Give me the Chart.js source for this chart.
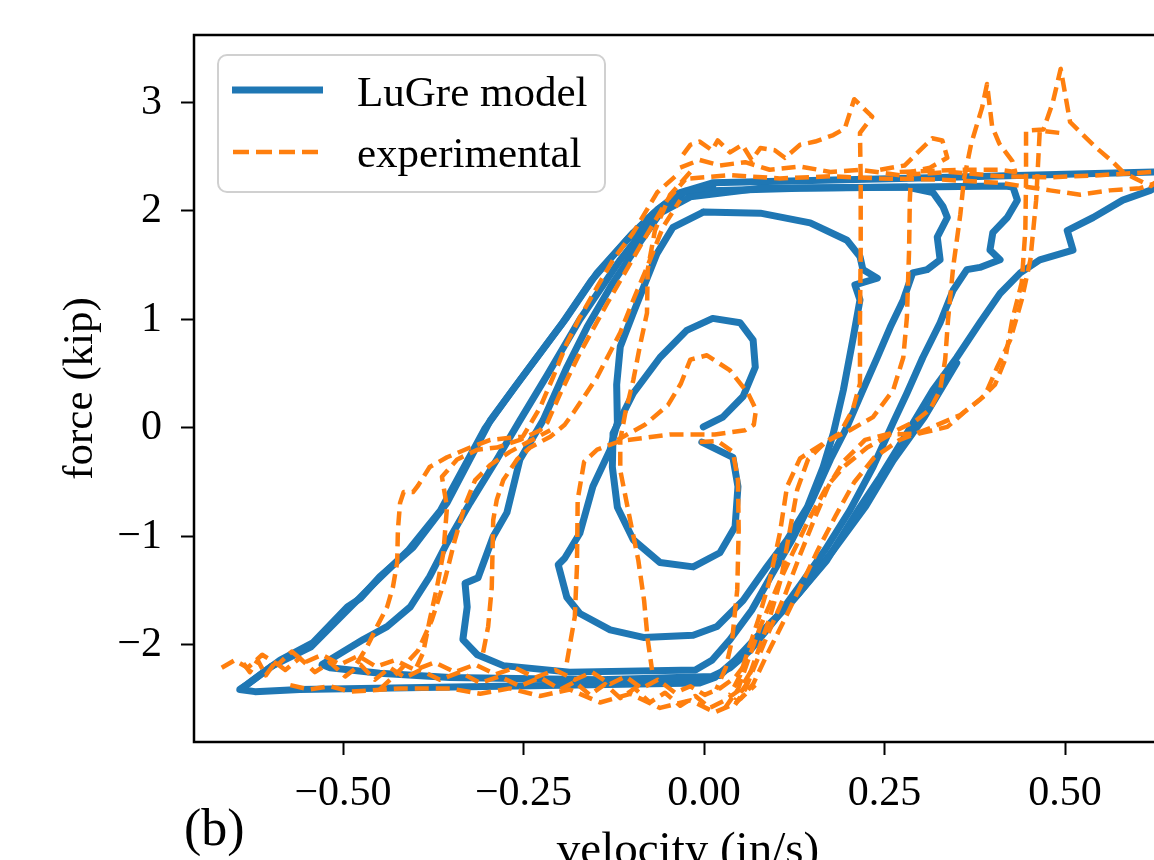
<!DOCTYPE html>
<html>
<head>
<meta charset="utf-8">
<script src="https://cdn.jsdelivr.net/npm/chart.js@4.4.1/dist/chart.umd.min.js"></script>
<style>
  html, body { margin: 0; padding: 0; overflow: hidden; background: #fff; }
  canvas { display: block; }
</style>
</head>
<body>
<canvas id="hysteresis" width="1230" height="900"></canvas>
<script>
// axis ranges and ticks
const xMin = -0.7064, xMax = 0.662;
const yMin = -2.894, yMax = 3.622;
const xTickValues = [-0.5, -0.25, 0, 0.25, 0.5];
const yTickValues = [-2, -1, 0, 1, 2, 3];

// LuGre model loops: [velocity, force]
const lugreLoop1 = [[-0.003,-0.13],[0.040,-0.27],[0.047,-0.54],[0.043,-0.91],[0.022,-1.15],[-0.015,-1.28],[-0.061,-1.24],[-0.098,-1.03],[-0.120,-0.73],[-0.127,-0.36],[-0.126,-0.05],[-0.098,0.32],[-0.061,0.65],[-0.024,0.90],[0.012,1.01],[0.050,0.97],[0.068,0.81],[0.071,0.56],[0.054,0.29],[0.026,0.10],[-0.001,0.01]];
const lugreLoop2 = [[-0.001,1.99],[0.078,1.98],[0.147,1.89],[0.198,1.73],[0.216,1.58],[0.220,1.46],[0.240,1.38],[0.209,1.32],[0.216,1.18],[0.206,0.81],[0.193,0.35],[0.179,-0.05],[0.165,-0.36],[0.143,-0.73],[0.115,-1.03],[0.087,-1.28],[0.054,-1.59],[0.018,-1.83],[-0.015,-1.91],[-0.084,-1.93],[-0.130,-1.86],[-0.172,-1.71],[-0.190,-1.56],[-0.202,-1.26],[-0.193,-1.20],[-0.172,-0.97],[-0.154,-0.54],[-0.130,-0.20],[-0.120,0.05],[-0.121,0.40],[-0.116,0.75],[-0.098,1.06],[-0.065,1.61],[-0.043,1.85],[-0.001,1.99]];
const lugreLoop3 = [[-0.019,2.13],[0.078,2.21],[0.281,2.22],[0.317,2.17],[0.331,2.04],[0.337,1.94],[0.323,1.76],[0.327,1.55],[0.309,1.46],[0.289,1.43],[0.276,1.18],[0.258,0.93],[0.240,0.65],[0.220,0.35],[0.198,0.01],[0.175,-0.29],[0.150,-0.66],[0.122,-1.03],[0.094,-1.35],[0.066,-1.68],[0.036,-1.95],[0.011,-2.14],[-0.012,-2.23],[-0.186,-2.25],[-0.278,-2.19],[-0.314,-2.09],[-0.334,-1.95],[-0.328,-1.65],[-0.331,-1.43],[-0.313,-1.38],[-0.292,-1.00],[-0.273,-0.78],[-0.255,-0.29],[-0.223,0.07],[-0.190,0.56],[-0.162,0.93],[-0.126,1.34],[-0.089,1.71],[-0.061,1.98],[-0.019,2.13]];
const lugreLoop4 = [[-0.026,2.18],[0.133,2.21],[0.417,2.23],[0.428,2.22],[0.434,2.10],[0.420,1.94],[0.400,1.80],[0.396,1.64],[0.410,1.55],[0.382,1.48],[0.364,1.46],[0.345,1.27],[0.327,0.97],[0.303,0.65],[0.281,0.32],[0.262,0.05],[0.234,-0.36],[0.202,-0.76],[0.168,-1.12],[0.133,-1.45],[0.098,-1.77],[0.064,-2.05],[0.036,-2.21],[0.011,-2.29],[-0.144,-2.32],[-0.352,-2.30],[-0.449,-2.26],[-0.518,-2.21],[-0.529,-2.18],[-0.472,-1.95],[-0.439,-1.83],[-0.407,-1.65],[-0.380,-1.37],[-0.356,-1.06],[-0.324,-0.69],[-0.287,-0.29],[-0.255,0.07],[-0.217,0.49],[-0.172,1.00],[-0.116,1.55],[-0.068,1.96],[-0.026,2.18]];
const lugreLoop5 = [[0.012,2.26],[0.271,2.30],[0.623,2.36],[0.650,2.36],[0.639,2.27],[0.618,2.19],[0.580,2.10],[0.539,1.94],[0.503,1.82],[0.511,1.64],[0.465,1.55],[0.438,1.43],[0.410,1.24],[0.382,0.97],[0.350,0.65],[0.317,0.35],[0.281,-0.05],[0.244,-0.45],[0.216,-0.73],[0.170,-1.22],[0.123,-1.59],[0.078,-1.89],[0.043,-2.14],[0.015,-2.30],[-0.006,-2.35],[-0.283,-2.38],[-0.560,-2.41],[-0.622,-2.43],[-0.643,-2.41],[-0.632,-2.36],[-0.587,-2.14],[-0.542,-1.98],[-0.494,-1.65],[-0.476,-1.57],[-0.449,-1.37],[-0.403,-1.10],[-0.356,-0.69],[-0.296,0.07],[-0.255,0.44],[-0.217,0.78],[-0.190,1.02],[-0.148,1.43],[-0.098,1.80],[-0.065,2.01],[-0.033,2.17],[0.012,2.26]];
// repeated cycles of the largest loop (the thick parts of the diagonals)
const lugreRepeatLeft = [[-0.640,-2.40],[-0.600,-2.20],[-0.545,-2.02],[-0.500,-1.72],[-0.455,-1.42],[-0.410,-1.13],[-0.365,-0.76],[-0.303,0.00],[-0.264,0.36],[-0.226,0.70],[-0.198,0.95],[-0.156,1.36],[-0.106,1.74],[-0.070,1.98],[-0.036,2.16],[0.012,2.23]];
const lugreRepeatRight = [[0.350,0.60],[0.305,0.10],[0.262,-0.30],[0.224,-0.72],[0.180,-1.12],[0.132,-1.52],[0.088,-1.84],[0.052,-2.10],[0.022,-2.28]];

// experimental traces: [velocity, force]
const expInnerRight = [[-0.006,-0.13],[0.019,-0.12],[0.040,-0.22],[0.047,-0.48],[0.048,-0.94],[0.046,-1.49],[0.039,-1.95],[0.030,-2.21],[0.017,-2.41]];
const expInnerLeft = [[-0.190,-2.16],[-0.179,-1.74],[-0.176,-1.28],[-0.175,-0.66],[-0.166,-0.31],[-0.148,-0.20],[-0.116,-0.12],[-0.047,-0.06],[0.015,-0.06],[0.057,-0.02],[0.069,0.03],[0.072,0.17],[0.061,0.32],[0.036,0.53],[0.004,0.67],[-0.019,0.63],[-0.032,0.41],[-0.050,0.21],[-0.082,0.03],[-0.120,-0.11]];
const expInnerDrop = [[-0.019,2.36],[-0.047,2.15],[-0.068,1.82],[-0.078,1.46],[-0.079,1.06],[-0.089,0.75],[-0.098,0.44],[-0.109,0.14],[-0.116,-0.11],[-0.116,-0.39],[-0.105,-0.76],[-0.091,-1.22],[-0.083,-1.59],[-0.078,-1.95],[-0.072,-2.23]];
const expRight1 = [[-0.029,2.52],[-0.019,2.61],[-0.006,2.64],[0.011,2.56],[0.019,2.65],[0.036,2.54],[0.053,2.61],[0.066,2.47],[0.078,2.58],[0.098,2.56],[0.112,2.49],[0.133,2.61],[0.154,2.64],[0.179,2.70],[0.195,2.76],[0.208,3.03],[0.233,2.87],[0.216,2.72],[0.217,2.29],[0.217,1.64],[0.216,1.00],[0.216,0.41],[0.206,0.17],[0.188,-0.05],[0.161,-0.16],[0.133,-0.28],[0.115,-0.54],[0.105,-0.97],[0.091,-1.40],[0.075,-1.77],[0.061,-2.05],[0.050,-2.28],[0.036,-2.46]];
const expRight2 = [[0.244,2.38],[0.278,2.42],[0.296,2.54],[0.316,2.67],[0.330,2.65],[0.337,2.49],[0.313,2.40],[0.287,2.36],[0.285,2.10],[0.284,1.64],[0.281,1.02],[0.276,0.65],[0.262,0.35],[0.234,0.10],[0.202,-0.02],[0.168,-0.13],[0.144,-0.29],[0.129,-0.57],[0.119,-0.94],[0.107,-1.38],[0.090,-1.77],[0.073,-2.09],[0.058,-2.37],[0.043,-2.51]];
const expRight3 = [[0.271,2.36],[0.355,2.38],[0.410,2.38],[0.431,2.36],[0.427,2.46],[0.409,2.62],[0.399,2.78],[0.392,3.17],[0.385,2.95],[0.370,2.62],[0.360,2.29],[0.355,1.97],[0.345,1.48],[0.338,1.00],[0.334,0.63],[0.327,0.35],[0.313,0.17],[0.292,0.06],[0.258,-0.05],[0.223,-0.11],[0.193,-0.31],[0.172,-0.54],[0.154,-0.82],[0.133,-1.17],[0.112,-1.54],[0.091,-1.86],[0.071,-2.18],[0.057,-2.41],[0.043,-2.55]];
const expRight4 = [[0.632,2.30],[0.619,2.23],[0.600,2.29],[0.580,2.36],[0.565,2.46],[0.542,2.59],[0.522,2.72],[0.507,2.82],[0.494,3.31],[0.483,3.00],[0.470,2.75],[0.446,2.74],[0.446,2.29],[0.445,1.82],[0.440,1.34],[0.427,1.00],[0.417,0.63],[0.403,0.40],[0.382,0.26],[0.361,0.15],[0.337,0.01],[0.299,-0.05],[0.258,-0.06],[0.226,-0.18],[0.193,-0.36],[0.170,-0.54],[0.147,-0.82],[0.123,-1.15],[0.101,-1.47],[0.078,-1.83],[0.061,-2.14],[0.047,-2.41],[0.029,-2.58]];
const expRight5 = [[0.492,2.72],[0.465,2.74],[0.460,2.10],[0.452,1.55],[0.440,1.18],[0.424,0.81],[0.406,0.56],[0.389,0.30],[0.355,0.12],[0.313,0.00],[0.271,-0.11],[0.236,-0.27],[0.208,-0.50],[0.183,-0.80],[0.158,-1.12],[0.133,-1.47],[0.109,-1.80],[0.085,-2.12],[0.068,-2.36],[0.050,-2.50]];
const expLeft1 = [[-0.481,-2.17],[-0.467,-2.02],[-0.453,-1.83],[-0.439,-1.65],[-0.431,-1.47],[-0.425,-1.24],[-0.424,-0.94],[-0.421,-0.69],[-0.416,-0.59],[-0.403,-0.59],[-0.396,-0.53],[-0.380,-0.36],[-0.356,-0.27],[-0.324,-0.18],[-0.296,-0.11],[-0.269,-0.09],[-0.251,-0.08],[-0.227,0.19],[-0.209,0.47],[-0.190,0.78],[-0.172,1.02],[-0.148,1.30],[-0.126,1.55],[-0.098,1.80],[-0.065,2.17],[-0.033,2.36]];
const expLeft2 = [[-0.398,-2.20],[-0.389,-2.07],[-0.380,-1.77],[-0.370,-1.47],[-0.361,-1.15],[-0.356,-0.73],[-0.363,-0.45],[-0.342,-0.29],[-0.314,-0.20],[-0.287,-0.18],[-0.255,-0.11],[-0.227,-0.02],[-0.217,0.05],[-0.199,0.32],[-0.172,0.69],[-0.134,1.15],[-0.089,1.67],[-0.051,2.10],[-0.026,2.29]];
const expLeft3 = [[-0.306,-2.07],[-0.299,-1.83],[-0.294,-1.47],[-0.292,-0.85],[-0.287,-0.66],[-0.278,-0.48],[-0.259,-0.29],[-0.241,-0.18],[-0.213,-0.08],[-0.193,0.03],[-0.181,0.14],[-0.148,0.47],[-0.116,0.88],[-0.098,1.18],[-0.079,1.48],[-0.057,1.85],[-0.033,2.10]];
const expLeft4 = [[-0.449,-2.41],[-0.421,-2.23],[-0.396,-2.05],[-0.377,-1.77],[-0.359,-1.40],[-0.345,-1.03],[-0.331,-0.71],[-0.317,-0.48],[-0.296,-0.34],[-0.269,-0.22],[-0.241,-0.12],[-0.213,-0.02]];
const expTopA = [[-0.033,2.40],[-0.006,2.47],[0.022,2.42],[0.057,2.45],[0.091,2.38],[0.133,2.41],[0.175,2.36],[0.216,2.38],[0.271,2.33],[0.341,2.36],[0.410,2.32],[0.479,2.31],[0.548,2.33],[0.623,2.36],[0.639,2.38]];
const expTopB = [[-0.019,2.30],[0.036,2.33],[0.105,2.30],[0.175,2.32],[0.244,2.30],[0.327,2.29],[0.410,2.26],[0.479,2.19],[0.521,2.15],[0.562,2.19],[0.604,2.21],[0.632,2.27]];
const expBottomA = [[-0.638,-2.17],[-0.629,-2.25],[-0.618,-2.14],[-0.607,-2.28],[-0.594,-2.16],[-0.580,-2.23],[-0.560,-2.12],[-0.539,-2.25],[-0.518,-2.16],[-0.497,-2.29],[-0.476,-2.18],[-0.456,-2.32],[-0.435,-2.21],[-0.414,-2.30],[-0.393,-2.23],[-0.366,-2.32],[-0.338,-2.25],[-0.310,-2.35],[-0.283,-2.29],[-0.255,-2.38],[-0.227,-2.30],[-0.199,-2.41],[-0.179,-2.34],[-0.158,-2.46],[-0.137,-2.36],[-0.116,-2.49],[-0.096,-2.40],[-0.075,-2.53],[-0.054,-2.44],[-0.033,-2.56],[-0.012,-2.47],[0.008,-2.58],[0.029,-2.51],[0.050,-2.41],[0.066,-2.23]];
const expBottomB = [[-0.668,-2.21],[-0.650,-2.14],[-0.632,-2.21],[-0.612,-2.09],[-0.590,-2.18],[-0.571,-2.06],[-0.553,-2.16],[-0.529,-2.09],[-0.504,-2.18],[-0.479,-2.10],[-0.454,-2.20],[-0.428,-2.14],[-0.400,-2.23],[-0.373,-2.16],[-0.345,-2.25],[-0.317,-2.18],[-0.289,-2.27],[-0.262,-2.21],[-0.234,-2.30],[-0.206,-2.23],[-0.179,-2.32],[-0.155,-2.25],[-0.130,-2.36],[-0.109,-2.29],[-0.086,-2.40],[-0.064,-2.32],[-0.040,-2.44],[-0.019,-2.38],[0.001,-2.46],[0.022,-2.40],[0.043,-2.30],[0.061,-2.14]];
const expBottomC = [[-0.573,-2.37],[-0.546,-2.41],[-0.518,-2.38],[-0.490,-2.43],[-0.420,-2.40],[-0.352,-2.40],[-0.310,-2.45],[-0.269,-2.40],[-0.227,-2.47],[-0.186,-2.41],[-0.144,-2.53],[-0.102,-2.45],[-0.061,-2.58],[-0.019,-2.51],[0.015,-2.62],[0.043,-2.54],[0.071,-2.37]];

const lugreLoops = [lugreLoop1, lugreLoop2, lugreLoop3, lugreLoop4, lugreLoop5, lugreRepeatLeft, lugreRepeatRight];
const expTraces = [expInnerRight, expInnerLeft, expInnerDrop, expRight1, expRight2, expRight3, expRight4, expRight5,
    expLeft1, expLeft2, expLeft3, expLeft4, expTopA, expTopB, expBottomA, expBottomB, expBottomC];

const blue = "#1f77b4";
const orange = "#ff7f0e";
const serif = "'Liberation Serif', 'DejaVu Serif', serif";

function traceSet(points, color, width, dash, order) {
    return {
        data: points.map(([x, y]) => ({ x, y })),
        borderColor: color,
        borderWidth: width,
        borderDash: dash,
        borderJoinStyle: "round",
        borderCapStyle: dash.length ? "butt" : "round",
        pointRadius: 0,
        fill: false,
        tension: 0,
        order
    };
}

const datasets = [
    ...lugreLoops.map(p => traceSet(p, blue, 7, [], 2)),
    ...expTraces.map(p => traceSet(p, orange, 4.5, [14, 7], 1))
];

function minusSign(s) { return s.replace("-", "\u2212"); }

const frameAndLegend = {
    id: "frameAndLegend",
    afterDraw(chart) {
        const ctx = chart.ctx;
        const a = chart.chartArea;
        ctx.save();
        // axes frame
        ctx.strokeStyle = "#000";
        ctx.lineWidth = 2.5;
        ctx.strokeRect(a.left, a.top, a.right - a.left, a.bottom - a.top);

        // legend box
        const bx = 218, by = 55, bw = 387, bh = 137, r = 9;
        ctx.beginPath();
        ctx.roundRect(bx, by, bw, bh, r);
        ctx.fillStyle = "rgba(255,255,255,0.8)";
        ctx.fill();
        ctx.strokeStyle = "#d0d0d0";
        ctx.lineWidth = 2;
        ctx.stroke();

        ctx.beginPath();
        ctx.strokeStyle = blue;
        ctx.lineWidth = 7;
        ctx.moveTo(232, 90);
        ctx.lineTo(323, 90);
        ctx.stroke();

        ctx.beginPath();
        ctx.strokeStyle = orange;
        ctx.lineWidth = 4.5;
        ctx.setLineDash([16, 7]);
        ctx.moveTo(233, 152);
        ctx.lineTo(320, 152);
        ctx.stroke();
        ctx.setLineDash([]);

        ctx.fillStyle = "#000";
        ctx.font = "43px " + serif;
        ctx.textBaseline = "alphabetic";
        ctx.fillText("LuGre model", 357, 106);
        ctx.fillText("experimental", 357, 167);

        ctx.font = "52px " + serif;
        ctx.fillText("(b)", 184, 845);
        ctx.restore();
    }
};

Chart.defaults.font.family = serif;
Chart.defaults.font.size = 42;
Chart.defaults.color = "#000";

new Chart(document.getElementById("hysteresis"), {
    type: "line",
    data: { datasets },
    plugins: [frameAndLegend],
    options: {
        responsive: false,
        animation: false,
        events: [],
        layout: { padding: { left: 0, top: 35, right: 48, bottom: 0 } },
        plugins: { legend: { display: false }, tooltip: { enabled: false } },
        scales: {
            x: {
                type: "linear",
                position: "bottom",
                min: xMin,
                max: xMax,
                afterFit: s => { s.height = 900 - 742; s.paddingLeft = 0; s.paddingRight = 0; },
                afterBuildTicks: s => { s.ticks = xTickValues.map(v => ({ value: v })); },
                ticks: {
                    autoSkip: false,
                    maxRotation: 0,
                    minRotation: 0,
                    padding: 14,
                    callback: v => minusSign(Number(v).toFixed(2))
                },
                grid: { drawOnChartArea: false, drawTicks: true, tickLength: 13, tickWidth: 2, tickColor: "#000" },
                border: { display: false },
                title: { display: true, text: "velocity (in/s)", font: { size: 47 }, padding: { top: 0, bottom: 20 } }
            },
            y: {
                type: "linear",
                min: yMin,
                max: yMax,
                afterFit: s => { s.width = 194; s.paddingTop = 0; s.paddingBottom = 0; },
                afterBuildTicks: s => { s.ticks = yTickValues.map(v => ({ value: v })); },
                ticks: {
                    padding: 19,
                    callback: v => minusSign(String(v))
                },
                grid: { drawOnChartArea: false, drawTicks: true, tickLength: 13, tickWidth: 2, tickColor: "#000" },
                border: { display: false },
                title: { display: true, text: "force (kip)", font: { size: 43 }, padding: { top: 55, bottom: 0 } }
            }
        }
    }
});
</script>
</body>
</html>
